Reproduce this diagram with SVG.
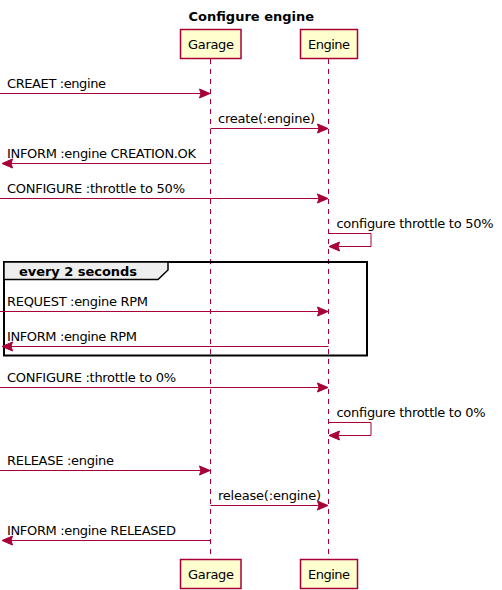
<svg xmlns="http://www.w3.org/2000/svg" width="502" height="590" viewBox="0 0 502 590">
<style>
  text { font-family: "DejaVu Sans", "Liberation Sans", sans-serif; fill: #000000; }
  .title { font-size: 13px; font-weight: bold; }
  .msg { font-size: 13px; }
  .part { font-size: 13px; }
  .box { fill: #FEFECE; stroke: #A80036; stroke-width: 1.5; }
  .life { stroke: #A80036; stroke-width: 1; stroke-dasharray: 5,5; fill: none; }
  .line { stroke: #A80036; stroke-width: 1; fill: none; }
  .head { fill: #A80036; stroke: #A80036; stroke-width: 1; }
  .frame { fill: none; stroke: #000000; stroke-width: 2; }
  .tab { fill: #EEEEEE; stroke: #000000; stroke-width: 1.5; }
  .glabel { font-size: 13px; font-weight: bold; }
</style>
<defs>
  <path id="ahR" d="M-10.5,-4.5 L0,0 L-10.5,4.5 L-9,0 Z" style="fill:#A80036;stroke:#A80036;stroke-width:1"/>
  <path id="ahL" d="M10.5,-4.5 L0,0 L10.5,4.5 L9,0 Z" style="fill:#A80036;stroke:#A80036;stroke-width:1"/>
</defs>
<rect width="502" height="590" fill="#FFFFFF"/>
<text class="title" x="251.3" y="20.5" text-anchor="middle">Configure engine</text>

<g id="lifelines">
  <line class="life" x1="210.5" y1="59" x2="210.5" y2="559"/>
  <line class="life" x1="328.5" y1="59" x2="328.5" y2="559"/>
</g>

<g id="garage-top">
  <rect class="box" x="180.5" y="29.5" width="60.5" height="29"/>
  <text class="part" x="188" y="49.3" textLength="46" lengthAdjust="spacing">Garage</text>
</g>
<g id="engine-top">
  <rect class="box" x="300.5" y="29.5" width="57" height="29"/>
  <text class="part" x="308" y="49.3" textLength="42" lengthAdjust="spacing">Engine</text>
</g>
<g id="garage-bottom">
  <rect class="box" x="180.5" y="559.5" width="60.5" height="29"/>
  <text class="part" x="188" y="579.3" textLength="46" lengthAdjust="spacing">Garage</text>
</g>
<g id="engine-bottom">
  <rect class="box" x="300.5" y="559.5" width="57" height="29"/>
  <text class="part" x="308" y="579.3" textLength="42" lengthAdjust="spacing">Engine</text>
</g>

<g id="group-every-2-seconds">
  <rect class="frame" x="4" y="262" width="363" height="93.5"/>
  <polygon class="tab" points="4,262 168,262 168,270 158,279.5 4,279.5"/>
  <text class="glabel" x="19" y="276" textLength="118" lengthAdjust="spacing">every 2 seconds</text>
</g>

<g id="connectors">
  <line class="line" x1="0" y1="93.5" x2="205" y2="93.5"/>
  <use href="#ahR" x="210" y="93.5"/>
  <text class="msg" x="7" y="87.5" textLength="99" lengthAdjust="spacing">CREAET :engine</text>

  <line class="line" x1="210.5" y1="128.5" x2="323" y2="128.5"/>
  <use href="#ahR" x="328" y="128.5"/>
  <text class="msg" x="218" y="122.5" textLength="97" lengthAdjust="spacing">create(:engine)</text>

  <line class="line" x1="7" y1="163.5" x2="210.5" y2="163.5"/>
  <use href="#ahL" x="2" y="163.5"/>
  <text class="msg" x="7" y="157.5" textLength="189" lengthAdjust="spacing">INFORM :engine CREATION.OK</text>

  <line class="line" x1="0" y1="198.5" x2="323" y2="198.5"/>
  <use href="#ahR" x="328" y="198.5"/>
  <text class="msg" x="7" y="192.5" textLength="178" lengthAdjust="spacing">CONFIGURE :throttle to 50%</text>

  <polyline class="line" points="328.5,233.5 371,233.5 371,246.5 334,246.5"/>
  <use href="#ahL" x="329" y="246.5"/>
  <text class="msg" x="336.5" y="227.5" textLength="157" lengthAdjust="spacing">configure throttle to 50%</text>

  <line class="line" x1="0" y1="311.5" x2="323" y2="311.5"/>
  <use href="#ahR" x="328" y="311.5"/>
  <text class="msg" x="7" y="305.5" textLength="141" lengthAdjust="spacing">REQUEST :engine RPM</text>

  <line class="line" x1="7" y1="346.5" x2="328.5" y2="346.5"/>
  <use href="#ahL" x="2" y="346.5"/>
  <text class="msg" x="7" y="340.5" textLength="130" lengthAdjust="spacing">INFORM :engine RPM</text>

  <line class="line" x1="0" y1="387.5" x2="323" y2="387.5"/>
  <use href="#ahR" x="328" y="387.5"/>
  <text class="msg" x="7" y="381.5" textLength="169" lengthAdjust="spacing">CONFIGURE :throttle to 0%</text>

  <polyline class="line" points="328.5,422.5 371,422.5 371,435.5 334,435.5"/>
  <use href="#ahL" x="329" y="435.5"/>
  <text class="msg" x="336.5" y="416.5" textLength="149" lengthAdjust="spacing">configure throttle to 0%</text>

  <line class="line" x1="0" y1="470.5" x2="205" y2="470.5"/>
  <use href="#ahR" x="210" y="470.5"/>
  <text class="msg" x="7" y="464.5" textLength="107" lengthAdjust="spacing">RELEASE :engine</text>

  <line class="line" x1="210.5" y1="505.5" x2="323" y2="505.5"/>
  <use href="#ahR" x="328" y="505.5"/>
  <text class="msg" x="218" y="499.5" textLength="103" lengthAdjust="spacing">release(:engine)</text>

  <line class="line" x1="7" y1="540.5" x2="210.5" y2="540.5"/>
  <use href="#ahL" x="2" y="540.5"/>
  <text class="msg" x="7" y="534.5" textLength="169" lengthAdjust="spacing">INFORM :engine RELEASED</text>
</g>
</svg>
